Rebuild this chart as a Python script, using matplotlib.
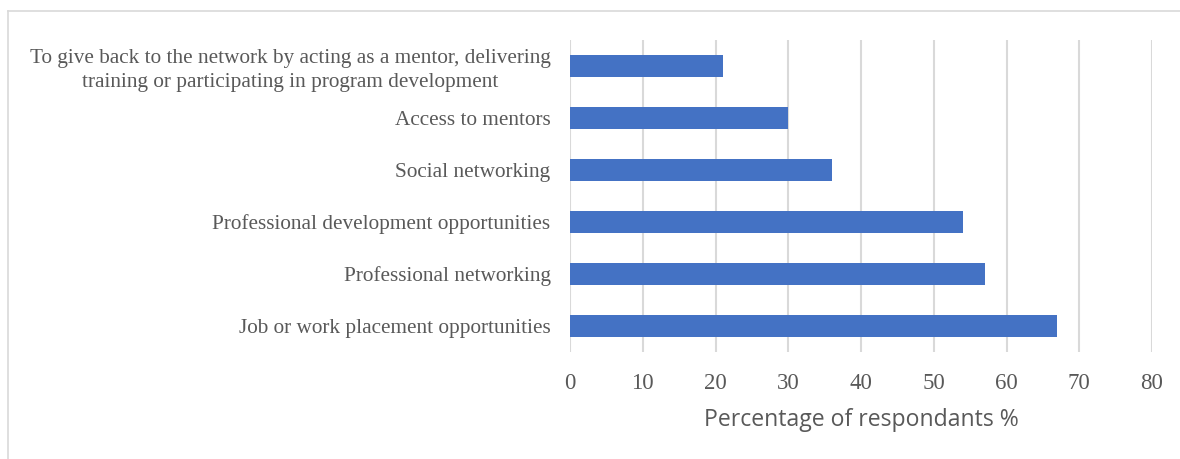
import matplotlib.pyplot as plt
from matplotlib.lines import Line2D

categories = [
    "To give back to the network by acting as a mentor, delivering\ntraining or participating in program development",
    "Access to mentors",
    "Social networking",
    "Professional development opportunities",
    "Professional networking",
    "Job or work placement opportunities",
]
percentages = [21, 30, 36, 54, 57, 67]
x_ticks = [0, 10, 20, 30, 40, 50, 60, 70, 80]

W, H = 1180, 459
fig = plt.figure(figsize=(W / 100, H / 100), dpi=100)
ax = fig.add_axes([570 / W, 1 - 352 / H, (1152 - 570) / W, (352 - 40) / H])

# bars listed top to bottom, so flip positions
pos = list(range(len(categories)))[::-1]
ax.barh(pos, percentages, height=0.42, color="#4472C4", zorder=3)

ax.set_xlim(0, 80)
ax.set_ylim(-0.5, len(categories) - 0.5)
ax.set_xticks(x_ticks)
ax.set_yticks(pos)
ax.set_yticklabels(categories, ha="right", multialignment="center", linespacing=1.3)
ax.grid(axis="x", color="#d9d9d9", linewidth=1.5, zorder=0)
for s in ax.spines.values():
    s.set_visible(False)

ax.tick_params(axis="y", length=0, pad=14, labelsize=15.3, labelcolor="#595959")
ax.tick_params(axis="x", length=0, pad=15, labelsize=16.5, labelcolor="#595959")
for lab in ax.get_xticklabels() + ax.get_yticklabels():
    lab.set_fontfamily("Liberation Serif")

ax.set_xlabel("Percentage of respondants %", fontsize=16.6, color="#595959",
              fontfamily="Open Sans", labelpad=10)

# outer chart frame (top and left edges)
fig.add_artist(Line2D([8 / W, 1], [1 - 11 / H, 1 - 11 / H], color="#d9d9d9", lw=1.2))
fig.add_artist(Line2D([8 / W, 8 / W], [0, 1 - 11 / H], color="#d9d9d9", lw=1.2))

fig.savefig("out.png", dpi=100)
